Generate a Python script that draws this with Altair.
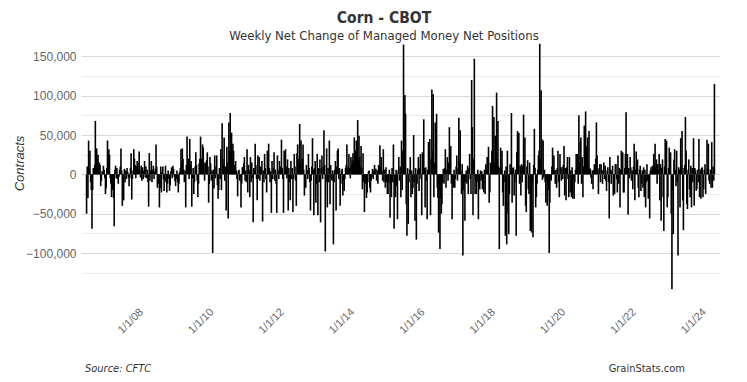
import altair as alt
import pandas as pd

# Weekly net change of managed money net positions, in thousands of contracts
# (first week: 2006-06-13, weekly on Tuesdays)
chg_2006 = [-50, 10, -30, 43, 5, 30, -10, -20, -69, -20, 8, 5, 12, 68, 10, 33, 20, 25, 8, 15,
            12, -15, -8, 4, 2, 11, 6, -5, -25]
chg_2007 = [-18, 8, 43, 10, 32, 25, -5, -12, -29, -20, -8, -30, -66, 6, 11, -5, 8, -6, -12, -3,
            6, 10, 33, 5, -40, -25, -33, 7, -10, 5, -6, 8, 3, -4, -15, -5, 8, 27, -32, -6,
            5, 32, 20, 12, -5, 10, 17, 14, 8, 29, 6, -4]
chg_2008 = [11, -8, 9, -6, 5, 17, -4, 10, -5, 6, -10, -41, 27, -8, 5, 17, -10, 6, 11, -6,
            4, 7, 38, 10, -17, -8, -12, -42, -18, 10, -23, 3, 10, -6, -21, -8, 11, -10, -23, -12,
            5, -6, -21, -14, 4, 9, -5, 11, 7, -3, -8, -15, -6]
chg_2009 = [5, -10, -23, -12, 3, 8, 32, 15, 33, 20, 6, -10, 5, -42, 12, 48, 15, 20, -6, 45,
            12, 17, -41, -5, 8, -25, -10, 10, 28, 12, -8, -29, -12, 14, 20, 48, 20, 10, 38, 34,
            15, -8, 15, 6, 18, 28, 10, -36, -12, 22, 14, -8]
chg_2010 = [5, -100, 6, -18, 24, -5, 10, 24, -14, -31, -20, 8, -6, 32, -20, 65, 20, 12, 47, -8,
            10, -46, 35, 15, -56, 66, 30, 78, 40, 53, 20, 39, 30, 8, 12, 17, 5, -6, -28, 4,
            6, -8, -3, -42, -12, 9, 9, 14, 22, -8, 5, -10]
chg_2011 = [32, -23, 12, 5, -29, 22, -10, 15, -5, -61, 8, 5, 39, 12, -6, -33, 24, -6, 22, -8,
            10, 5, 17, -60, 5, -10, 26, 8, -6, -23, 30, 10, 39, 8, -10, 4, -49, 17, -6, 8,
            28, -8, 6, -12, -49, 24, 5, -6, 17, 5, 10, 44]
chg_2012 = [8, -6, -49, 30, 6, 32, 10, -5, 19, -46, 8, -10, -33, 17, -6, 8, -48, -6, 26, 10,
            -8, -40, 27, 38, 12, 20, 64, 15, 43, 10, 20, 38, 6, -27, -8, -17, 12, 5, -6, 26,
            8, -10, -46, -8, 10, 46, 6, -52, 8, 17, -36, -12]
chg_2013 = [26, -52, 8, -10, 19, -61, 8, 24, -6, 10, 56, 12, -98, -10, 33, -42, 8, -10, 43, -38,
            12, -6, -8, 5, -89, -10, 6, 17, -46, 10, 30, 33, -6, 8, -40, -12, 5, 7, -27, -8,
            -21, -6, 8, 12, 38, 6, 10, 26, 8, -5, 22, 12, 18]
chg_2014 = [27, 15, 47, 20, 30, 43, 25, 69, 18, 49, 22, 10, 36, 8, -19, 27, -10, -48, -12, -8,
            -30, -23, -10, 4, 5, -17, -23, -8, -4, 7, -6, 5, 12, 4, 7, -8, 5, -12, 12, 8,
            37, 10, 22, 5, -8, 32, -10, 6, -17, 9, -10, -25]
chg_2015 = [-25, -10, 6, -55, -12, -29, 8, -10, 38, -69, -12, -29, 6, -15, -57, 5, 22, -8, 10, -29,
            43, -20, 30, 165, 10, 101, 77, -38, -78, 8, -63, -10, 6, 22, -29, 5, -25, -17, 50, -10,
            -59, 8, -83, -12, 6, 22, -21, 8, 26, -6, -52, 28]
chg_2016 = [10, 70, 8, -42, 9, -8, -57, 6, 41, 12, 45, -52, 20, 108, 30, 102, -29, 15, 66, 25,
            77, -17, -30, -74, -20, -95, -30, -50, -38, -10, 7, -12, 8, 32, -17, 6, 22, -8, 15, 60,
            10, 36, -12, -57, -8, -17, 6, -17, -6, 10, 24, -8]
chg_2017 = [8, 72, 15, 56, 5, -25, 13, -103, -20, -8, -59, -10, 5, -12, 11, -25, 8, 26, -6, -25,
            120, 60, -52, 20, 147, -25, -8, -25, -10, 6, -57, -12, -19, 5, -8, 4, -19, -8, -23, 6,
            -25, 13, 6, 22, 8, 35, -36, -23, 15, 13, 30, 87]
chg_2018 = [20, 73, 15, 49, 30, 104, 20, 68, 10, -95, 8, 34, 10, 30, -23, -40, -10, 5, -78, 10,
            -89, 30, -50, -76, -25, 13, 6, 78, -36, 8, 9, -27, -10, 6, -78, 28, 55, 15, 53, -12,
            11, -27, 13, -10, 11, 76, 20, 47, -40, -48, 10, 18]
chg_2019 = [-19, -25, 15, -72, -20, -74, -10, -80, 12, 58, 8, -42, -29, -12, 6, 24, 30, 166, 20, 107,
            45, -7, 43, -4, 6, -10, -36, -8, -40, -12, -20, -100, -36, -6, -8, 10, 34, 8, 24, 5,
            -12, 6, -17, 8, 30, -10, -29, 26, 9, -8, 9, -6, 12]
chg_2020 = [36, -27, 8, -33, 9, 22, -6, -29, 22, -23, 5, -29, 9, -31, -8, -31, -10, 6, 26, 8,
            26, -12, 75, 15, 41, 47, -12, 22, -29, 10, 62, 20, 80, 36, 24, 47, 12, 55, 8, 7,
            -4, -12, 5, -19, 6, 13, 8, 20, 66, 24, 5, -25]
chg_2021 = [8, 13, -10, 13, 6, -12, 5, 15, -6, 11, -8, -21, 5, 9, -10, -56, 22, 6, -12, 5,
            11, -27, -12, -25, 13, 13, -6, -23, 24, -12, 8, -42, 6, 30, 10, 28, -23, -23, 8, 26,
            79, 10, 26, -51, 8, -5, 22, 9, -8, 5, -19, 10]
chg_2022 = [39, -33, 6, 29, 8, 19, -17, -29, 6, 11, -21, -12, 5, -17, 9, -29, 6, -42, -10, 13,
            -8, -31, -12, -56, 5, 9, 6, 11, 8, 26, 12, 39, 8, 19, -12, 13, 6, 26, -33, 13,
            -59, 8, 19, -29, -72, 10, 45, 12, 43, -42, -29, 8]
chg_2023 = [34, 10, 28, -50, -146, -20, -76, 19, 32, 6, -15, 30, -10, -103, 9, 6, -42, 46, 10, 55,
            -33, -71, 8, 12, 73, 30, -38, -44, 6, 19, -19, -29, 11, -42, 8, -10, 46, -40, 8, 5,
            -21, -19, 6, -10, 45, -29, 6, -31, 8, 9, -29, -19]
chg_2024 = [6, 13, -25, 1, 44, 8, 39, -8, -12, 6, -17, 41, -17, 10, -8, 115]

first_week = "2006-06-13"
x_domain = [alt.DateTime(year=2006, month=6, date=7), alt.DateTime(year=2024, month=4, date=22)]
x_tick_years = [2008, 2010, 2012, 2014, 2016, 2018, 2020, 2022, 2024]
y_ticks = [-125000, -100000, -75000, -50000, -25000, 0, 25000, 50000, 75000,
           100000, 125000, 150000]

title_text = "Corn - CBOT"
subtitle_text = "Weekly Net Change of Managed Money Net Positions"
source_text = "Source: CFTC"
credit_text = "GrainStats.com"

values_k = (chg_2006 + chg_2007 + chg_2008 + chg_2009 + chg_2010 + chg_2011 + chg_2012 +
            chg_2013 + chg_2014 + chg_2015 + chg_2016 + chg_2017 + chg_2018 + chg_2019 +
            chg_2020 + chg_2021 + chg_2022 + chg_2023 + chg_2024)
dates = pd.date_range(start=first_week, periods=len(values_k), freq="7D")
df = pd.DataFrame({"date": dates.strftime("%Y-%m-%d"), "change": [v * 1000 for v in values_k]})

LABEL_FONT = "Liberation Sans"
HEAD_FONT = "DejaVu Sans Condensed"

bars = alt.Chart(df).mark_bar(size=1.6, color="#000000").encode(
    x=alt.X(
        "date:T",
        scale=alt.Scale(domain=x_domain),
        axis=alt.Axis(
            values=[alt.DateTime(year=y, month=1, date=1) for y in x_tick_years],
            format="%-m/%-d/%y",
            labelAngle=315,
            labelAlign="right",
            labelBaseline="middle",
            labelPadding=20,
            labelFont=LABEL_FONT,
            labelFontSize=11,
            labelColor="#666666",
            ticks=False,
            domain=False,
            grid=False,
            title=None,
        ),
    ),
    y=alt.Y(
        "change:Q",
        scale=alt.Scale(domain=[-147000, 167000], nice=False),
        axis=alt.Axis(
            values=y_ticks,
            labelExpr="datum.value % 50000 == 0 ? format(datum.value, ',') : ''",
            labelFont=LABEL_FONT,
            labelFontSize=12,
            labelColor="#666666",
            labelPadding=5,
            ticks=False,
            domain=False,
            grid=True,
            gridColor={"condition": {"test": "datum.value % 50000 == 0", "value": "#d8d8d8"},
                       "value": "#ebebeb"},
            gridWidth=1,
            title="Contracts",
            titleFont=LABEL_FONT,
            titleFontSize=13,
            titleFontStyle="italic",
            titleFontWeight="normal",
            titleColor="#333333",
            titleAngle=270,
            titleAlign="center",
            titleBaseline="middle",
            titleX=-62,
            titleY=120,
        ),
    ),
)

def label(text, x, y, size, weight="normal", style="normal", align="center"):
    return alt.Chart(pd.DataFrame({"t": [text]})).mark_text(
        font=HEAD_FONT, fontSize=size, fontWeight=weight, fontStyle=style,
        color="#333333", align=align, baseline="alphabetic",
    ).encode(text="t:N", x=alt.value(x), y=alt.value(y))

chart = alt.layer(
    bars,
    label(title_text, 303, -20, 15.5, weight="bold"),
    label(subtitle_text, 303, -3, 13),
    label(source_text, 4, 329, 11, style="italic", align="left"),
    label(credit_text, 604, 329, 11, align="right"),
).properties(
    width=639,
    height=247,
    autosize=alt.AutoSizeParams(type="none"),
    padding={"left": 73, "top": 35, "right": 17, "bottom": 84},
).configure_view(stroke=None)

chart.save("out.html", embed_options={"renderer": "svg", "actions": False})
